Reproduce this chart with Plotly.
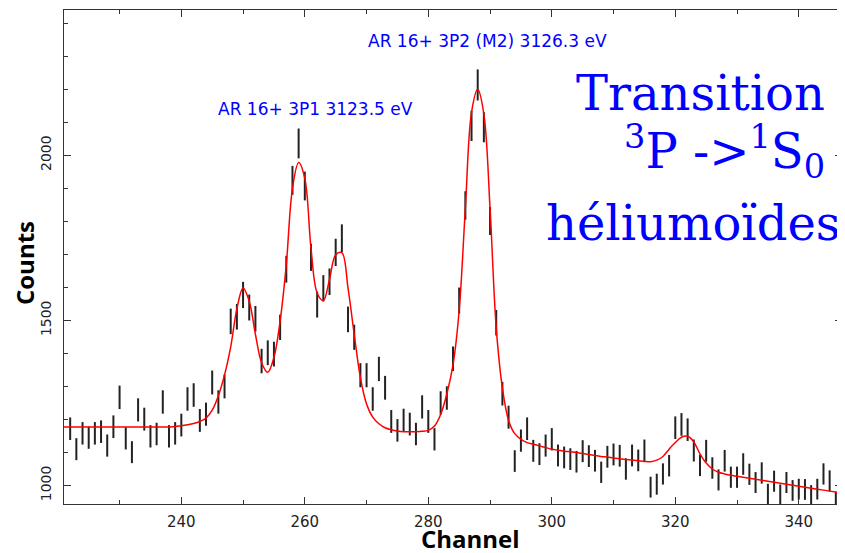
import numpy as np
import plotly.graph_objects as go

# ---- data ----
first_channel = 222
counts = [
    1172, 1110, 1158, 1145, 1158, 1163, 1121, 1178, 1267, 1143,   # 222-231
    1101, 1229, 1201, 1149, 1156, 1253, 1149, 1158, 1183, 1262,   # 232-241
    1274, 1197, 1216, 1312, 1253, 1300, 1497, 1511, 1577, 1539,   # 242-251
    1505, 1377, 1402, 1398, 1479, 1655, 1924, 2036, 1907, 1691,   # 252-261
    1548, 1597, 1617, 1706, 1749, 1503, 1449, 1334, 1334, 1262,   # 262-271
    1353, 1296, 1194, 1167, 1198, 1186, 1156, 1238, 1194, 1140,   # 272-281
    1250, 1265, 1384, 1560, 1848, 2089, 2213, 2085, 1801, 1493,   # 282-291
    1278, 1207, 1074, 1136, 1172, 1105, 1095, 1121, 1140, 1091,   # 292-301
    1085, 1080, 1072, 1104, 1089, 1075, 1040, 1087, 1094, 1090,   # 302-311
    1050, 1091, 1076, 1106, 995, 1004, 1035, 1060, 1175, 1185,    # 312-321
    1169, 1106, 1061, 1105, 1053, 1017, 1075, 1025, 1025, 1065,   # 322-331
    1034, 1009, 1038, 974, 1013, 972, 1009, 985, 989, 988,        # 332-341
    970, 989, 1035, 1014, 950,                                     # 342-346
]
channels = list(range(first_channel, first_channel + len(counts)))
errors = np.sqrt(np.array(counts, dtype=float))  # Poisson errors

fit_first = 221
fit_counts = [
    1177,                                                          # 221
    1177, 1177, 1177, 1177, 1177, 1177, 1177, 1177, 1177, 1177,   # 222-231
    1177, 1177, 1177, 1177, 1177, 1177, 1177, 1179, 1181, 1184,   # 232-241
    1188, 1194, 1204, 1228, 1272, 1335, 1420, 1535, 1598, 1558,   # 242-251
    1458, 1372, 1343, 1388, 1498, 1669, 1900, 1978, 1930, 1719,   # 252-261
    1583, 1560, 1624, 1699, 1705, 1598, 1458, 1327, 1247, 1207,   # 262-271
    1187, 1175, 1169, 1165, 1163, 1163, 1163, 1164, 1167, 1180,   # 272-281
    1215, 1277, 1365, 1530, 1839, 2130, 2200, 2125, 1839, 1478,   # 282-291
    1295, 1197, 1157, 1140, 1130, 1125, 1120, 1115, 1110, 1107,   # 292-301
    1104, 1102, 1100, 1097, 1094, 1091, 1088, 1086, 1083, 1081,   # 302-311
    1079, 1077, 1075, 1073, 1072, 1077, 1088, 1110, 1130, 1146,   # 312-321
    1149, 1132, 1096, 1068, 1050, 1040, 1035, 1031, 1028, 1025,   # 322-331
    1022, 1019, 1016, 1013, 1010, 1007, 1004, 1001, 998, 995,     # 332-341
    992, 989, 986, 983, 980, 977,                                  # 342-347
]
fit_channels = list(range(fit_first, fit_first + len(fit_counts)))

x_range = [221, 347]
y_range = [944, 2440]

label_p1 = "AR 16+ 3P1 3123.5 eV"
label_p2 = "AR 16+ 3P2 (M2) 3126.3 eV"
title_lines = ["Transition", "<sup>3</sup>P -&gt;<sup>1</sup>S<sub>0</sub>", "héliumoïdes"]

fig = go.Figure()

fig.add_trace(go.Scatter(
    x=channels, y=counts, mode="markers",
    marker=dict(size=1, color="rgba(0,0,0,0)"),
    error_y=dict(type="data", array=errors, visible=True,
                 color="#222222", thickness=2, width=0),
    hoverinfo="x+y", showlegend=False,
))

fig.add_trace(go.Scatter(
    x=fit_channels, y=fit_counts, mode="lines",
    line=dict(color="#ff0000", width=1.5, shape="spline"),
    showlegend=False,
))

tick_font = dict(family="DejaVu Sans", size=15, color="#222222")

fig.update_xaxes(
    range=x_range, showgrid=False, zeroline=False, automargin=False,
    showline=True, linecolor="#333333", linewidth=1, mirror="ticks",
    ticks="inside", ticklen=7, tickcolor="#333333",
    tick0=0, dtick=20, tickfont=tick_font, ticklabelstandoff=4,
    minor=dict(ticks="inside", ticklen=4, dtick=10, tickcolor="#333333"),
)
fig.update_yaxes(
    range=y_range, showgrid=False, zeroline=False, automargin=False,
    showline=True, linecolor="#333333", linewidth=1, mirror="ticks",
    ticks="inside", ticklen=7, tickcolor="#333333",
    tick0=0, dtick=500, tickangle=-90,
    tickfont=dict(family="DejaVu Sans", size=14, color="#222222"),
    ticklabelstandoff=6,
    minor=dict(ticks="inside", ticklen=4, dtick=100, tickcolor="#333333"),
)

annotations = [
    dict(x=261.8, y=2140, xref="x", yref="y", text=label_p1, showarrow=False,
         font=dict(family="DejaVu Sans", size=17, color="#0000ff"),
         xanchor="center", yanchor="middle"),
    dict(x=289.6, y=2347, xref="x", yref="y", text=label_p2, showarrow=False,
         font=dict(family="DejaVu Sans", size=17, color="#0000ff"),
         xanchor="center", yanchor="middle"),
    dict(x=0.523, y=-0.069, xref="paper", yref="paper", text="<b>Channel</b>",
         showarrow=False, font=dict(family="Open Sans", size=24, color="#000000"),
         xanchor="center", yanchor="middle"),
    dict(x=-0.050, y=0.488, xref="paper", yref="paper", text="<b>Counts</b>",
         showarrow=False, textangle=-90,
         font=dict(family="Open Sans", size=24, color="#000000"),
         xanchor="center", yanchor="middle"),
]
big_font = dict(family="DejaVu Serif", size=48, color="#0000ff")
big_pos = [(344.6, 1000 + (485.3 - 91) / 0.332),
           (344.6, 1000 + (485.3 - 149) / 0.332),
           (347.0, 1000 + (485.3 - 221) / 0.332)]
for txt, (bx, by) in zip(title_lines, big_pos):
    annotations.append(dict(x=bx, y=by, xref="x", yref="y", text=txt,
                            showarrow=False, font=big_font,
                            xanchor="right", yanchor="middle"))

# the page body has an 8px margin, so the figure is sized to fit the window
fig.update_layout(
    width=837, height=545,
    margin=dict(l=56, r=3, t=2, b=49),
    paper_bgcolor="white", plot_bgcolor="white",
    annotations=annotations,
    showlegend=False,
)

fig.write_html("out.html")
